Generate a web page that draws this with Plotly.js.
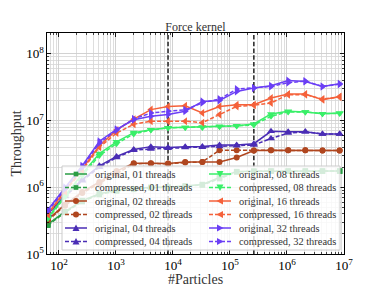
<!DOCTYPE html>
<html>
<head>
<meta charset="utf-8">
<script src="https://cdn.plot.ly/plotly-3.0.1.min.js"></script>
<style>
  html, body { margin: 0; padding: 0; background: #fff; overflow: hidden; }
</style>
</head>
<body>
<div id="chart" style="width:382px;height:287px;"></div>
<script>
// ---------------- data ----------------
const particles = [64, 128, 256, 512, 1024, 2048, 4096, 8192, 16384, 32768, 65536,
                   131072, 262144, 524288, 1048576, 2097152, 4194304, 8388608];
const cacheBoundaries = [8192, 262144];
const threadLabels = ['01', '02', '04', '08', '16', '32'];
const variantLabels = ['original', 'compressed'];

const orig01 = [2.8e5, 4.3e5, 6.3e5, 8.0e5, 9.0e5, 9.5e5, 1.0e6, 1.0e6, 1.05e6, 1.1e6, 1.4e6, 1.72e6, 1.74e6, 1.75e6, 1.75e6, 1.75e6, 1.75e6, 1.75e6];
const comp01 = [2.7e5, 4.2e5, 6.1e5, 7.8e5, 8.8e5, 9.3e5, 9.8e5, 1.0e6, 1.03e6, 1.08e6, 1.35e6, 1.7e6, 1.74e6, 1.75e6, 1.75e6, 1.75e6, 1.75e6, 1.75e6];
const orig02 = [3.3e5, 5.5e5, 8.5e5, 1.2e6, 1.75e6, 2.3e6, 2.3e6, 2.28e6, 2.4e6, 2.4e6, 2.4e6, 2.8e6, 3.55e6, 3.6e6, 3.6e6, 3.6e6, 3.55e6, 3.55e6];
const comp02 = [3.2e5, 5.3e5, 8.2e5, 1.15e6, 1.6e6, 2.25e6, 2.28e6, 2.25e6, 2.35e6, 2.4e6, 3.6e6, 3.6e6, 3.55e6, 3.6e6, 3.6e6, 3.6e6, 3.55e6, 3.55e6];
const orig04 = [4.0e5, 7.5e5, 1.3e6, 2.1e6, 2.9e6, 3.7e6, 4.07e6, 3.95e6, 4.07e6, 4.1e6, 4.3e6, 4.3e6, 4.5e6, 6.9e6, 6.8e6, 6.8e6, 6.3e6, 6.3e6];
const comp04 = [3.9e5, 7.3e5, 1.25e6, 2.0e6, 2.8e6, 3.6e6, 3.75e6, 3.85e6, 3.95e6, 4.0e6, 4.1e6, 4.2e6, 4.3e6, 5.4e6, 6.5e6, 6.8e6, 6.3e6, 6.3e6];
const orig08 = [3.5e5, 7.5e5, 1.6e6, 3.2e6, 4.8e6, 6.6e6, 7.3e6, 7.8e6, 7.9e6, 7.9e6, 8.2e6, 8.4e6, 8.9e6, 1.26e7, 1.38e7, 1.35e7, 1.27e7, 1.3e7];
const comp08 = [3.4e5, 7.2e5, 1.5e6, 3.0e6, 4.5e6, 6.3e6, 7.2e6, 7.8e6, 7.9e6, 8.0e6, 8.1e6, 8.3e6, 8.6e6, 1.16e7, 1.35e7, 1.35e7, 1.27e7, 1.28e7];
const orig16 = [4.0e5, 9.0e5, 1.9e6, 4.2e6, 7.2e6, 1.05e7, 1.46e7, 1.63e7, 1.67e7, 1.3e7, 1.63e7, 1.73e7, 1.73e7, 2.18e7, 2.5e7, 2.5e7, 2.06e7, 2.3e7];
const comp16 = [3.9e5, 8.6e5, 1.8e6, 4.0e6, 6.5e6, 8.8e6, 9.8e6, 9.8e6, 9.8e6, 9.3e6, 1.23e7, 1.63e7, 1.7e7, 1.84e7, 2.45e7, 2.45e7, 2.1e7, 2.25e7];
const orig32 = [4.6e5, 1.0e6, 2.1e6, 4.9e6, 7.4e6, 1.03e7, 1.16e7, 1.23e7, 1.38e7, 1.94e7, 2.0e7, 2.74e7, 3.08e7, 3.33e7, 4.0e7, 3.86e7, 3.25e7, 3.56e7];
const comp32 = [4.4e5, 9.5e5, 2.0e6, 4.6e6, 7.2e6, 1.06e7, 1.3e7, 1.38e7, 1.45e7, 1.85e7, 2.1e7, 2.97e7, 3.08e7, 3.25e7, 3.7e7, 3.9e7, 3.25e7, 3.5e7];

const originalSeries = [orig01, orig02, orig04, orig08, orig16, orig32];
const compressedSeries = [comp01, comp02, comp04, comp08, comp16, comp32];

// ---------------- styles ----------------
const colors = ['#2a9d45', '#b0461f', '#4a2db5', '#39ef68', '#f5613a', '#6b3ff5'];
const symbols = ['square', 'circle', 'triangle-up', 'triangle-down', 'triangle-left', 'triangle-right'];
const msizes = [5.5, 6, 7, 7, 7, 7];
const LW = 1.5;
const compDash = '4px,2px';

const traces = [];
cacheBoundaries.forEach(xb => {
  traces.push({
    x: [xb, xb], y: [1e5, 3e8], mode: 'lines', showlegend: false, hoverinfo: 'skip',
    line: { color: '#222', width: 1.5, dash: '4.5px,2.2px' }
  });
});
threadLabels.forEach((t, i) => {
  [originalSeries[i], compressedSeries[i]].forEach((ys, v) => {
    traces.push({
      x: particles, y: ys, mode: 'lines+markers', showlegend: false,
      name: variantLabels[v] + ', ' + t + ' threads',
      line: { color: colors[i], width: LW, dash: v ? compDash : 'solid' },
      marker: { color: colors[i], symbol: symbols[i], size: msizes[i], line: { width: 0 } }
    });
  });
});

// ---------------- plot geometry (px) ----------------
const W = 382, H = 287;
const M = { l: 47, r: 38, t: 33, b: 33 };
const PW = W - M.l - M.r, PH = H - M.t - M.b;
const px2x = p => (p - M.l) / PW;          // page x -> paper x
const px2y = p => (H - M.b - p) / PH;      // page y -> paper y

// ---------------- hand-built legend (2 columns, tight rows) ----------------
const shapes = [];
const annotations = [];
const LEG = { x0: 62, x1: 340, y0: 166, y1: 250, row0: 174, pitch: 13.5,
              cols: [65, 209], lineLen: 22, textGap: 29 };
shapes.push({ type: 'rect', xref: 'paper', yref: 'paper', layer: 'above',
  x0: px2x(LEG.x0), x1: px2x(LEG.x1), y0: px2y(LEG.y1), y1: px2y(LEG.y0),
  fillcolor: 'rgba(255,255,255,0.8)', line: { color: '#cccccc', width: 1 } });

function markerShape(sym, ax, ay, color, size) {
  const h = size / 2;
  const base = { xref: 'paper', yref: 'paper', layer: 'above', xsizemode: 'pixel', ysizemode: 'pixel',
                 xanchor: ax, yanchor: ay, fillcolor: color, line: { width: 0 } };
  if (sym === 'square') return Object.assign(base, { type: 'rect', x0: -h * 0.85, x1: h * 0.85, y0: -h * 0.85, y1: h * 0.85 });
  if (sym === 'circle') return Object.assign(base, { type: 'circle', x0: -h, x1: h, y0: -h, y1: h });
  const a = h, b = h * 0.85;
  const paths = {
    'triangle-up':    `M${-a},${-b} L${a},${-b} L0,${a} Z`,
    'triangle-down':  `M${-a},${b} L${a},${b} L0,${-a} Z`,
    'triangle-left':  `M${b},${-a} L${b},${a} L${-a},0 Z`,
    'triangle-right': `M${-b},${-a} L${-b},${a} L${a},0 Z`
  };
  return Object.assign(base, { type: 'path', path: paths[sym] });
}

threadLabels.forEach((t, i) => {
  const col = i < 3 ? 0 : 1;
  variantLabels.forEach((vl, v) => {
    const row = (i % 3) * 2 + v;
    const yPx = LEG.row0 + row * LEG.pitch;
    const xl = LEG.cols[col];
    const yp = px2y(yPx);
    shapes.push({ type: 'line', xref: 'paper', yref: 'paper', layer: 'above',
      x0: px2x(xl), x1: px2x(xl + LEG.lineLen), y0: yp, y1: yp,
      line: { color: colors[i], width: LW, dash: v ? compDash : 'solid' } });
    shapes.push(markerShape(symbols[i], px2x(xl + LEG.lineLen / 2), yp, colors[i], msizes[i]));
    annotations.push({ xref: 'paper', yref: 'paper', x: px2x(xl + LEG.textGap - 1), y: yp,
      xanchor: 'left', yanchor: 'middle', showarrow: false,
      text: vl + ', ' + t + ' threads',
      font: { family: 'Liberation Serif, serif', size: 10.4, color: '#333' } });
  });
});

const serif = 'Liberation Serif, Times New Roman, serif';
const axisCommon = {
  type: 'log', dtick: 1, exponentformat: 'power', showexponent: 'all',
  ticks: 'inside', ticklen: 4, tickwidth: 0.9, tickcolor: '#000',
  showline: true, linecolor: '#000', linewidth: 1, mirror: 'ticks',
  showgrid: true, gridcolor: '#cdcdcd', gridwidth: 0.9, zeroline: false,
  tickfont: { family: serif, size: 10.5, color: '#000' },
  minor: { dtick: 'D1', ticks: 'inside', ticklen: 2, tickwidth: 0.7, tickcolor: '#000',
           showgrid: true, gridcolor: '#d6d6d6', gridwidth: 0.8 }
};

const layout = {
  width: W, height: H,
  margin: { l: M.l, r: M.r, t: M.t, b: M.b, pad: 0 },
  paper_bgcolor: '#fff', plot_bgcolor: '#fff',
  font: { family: serif, color: '#000' },
  showlegend: false,
  title: { text: 'Force kernel', font: { family: serif, size: 12, color: '#333' },
           x: 0.5, xref: 'paper', y: 1, yref: 'paper', yanchor: 'bottom', pad: { b: 2 } },
  xaxis: Object.assign({}, axisCommon, {
    range: [1.79, 7.0],
    title: { text: '#Particles', font: { family: serif, size: 14, color: '#333' }, standoff: 9 }
  }),
  yaxis: Object.assign({}, axisCommon, {
    range: [5, 8.313],
    title: { text: 'Throughput', font: { family: serif, size: 14, color: '#333' }, standoff: 1 }
  }),
  shapes: shapes,
  annotations: annotations
};

Plotly.newPlot('chart', traces, layout, { staticPlot: true, displayModeBar: false });
</script>
</body>
</html>
